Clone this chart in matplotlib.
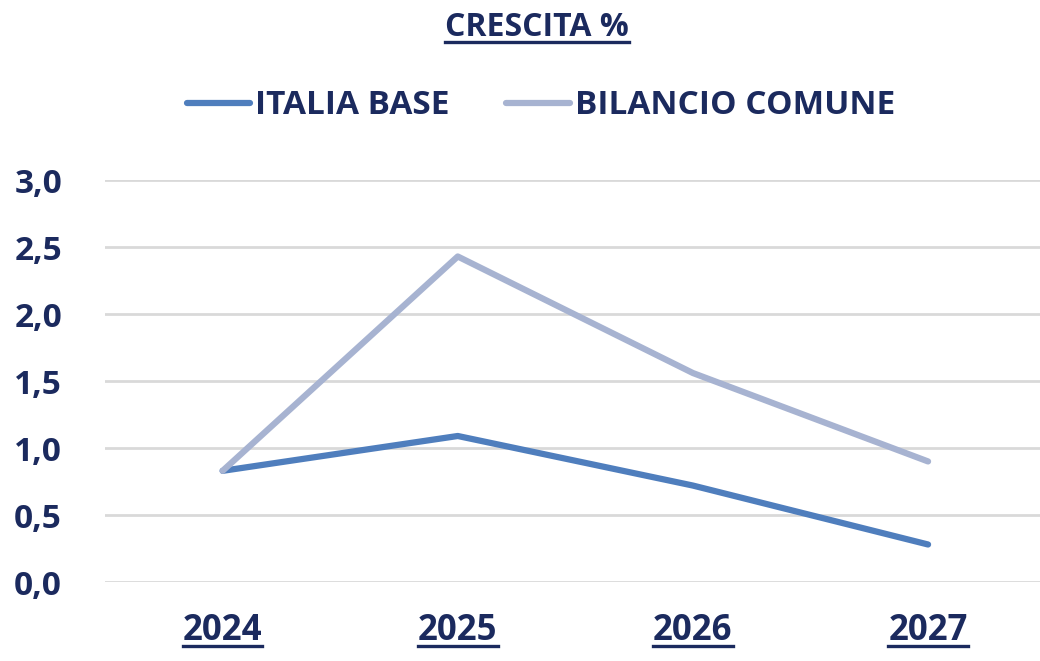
import matplotlib
matplotlib.use("Agg")
import matplotlib.pyplot as plt
from matplotlib.lines import Line2D

plt.rcParams["font.family"] = ["Open Sans", "DejaVu Sans"]
plt.rcParams["font.weight"] = "bold"

years = ["2024", "2025", "2026", "2027"]
italia_base = [0.83, 1.09, 0.72, 0.28]
bilancio_comune = [0.83, 2.43, 1.56, 0.90]
y_ticks = [0.0, 0.5, 1.0, 1.5, 2.0, 2.5, 3.0]

NAVY = "#1B2A5E"
BLUE = "#4F7EBD"
LIGHT = "#A7B3D1"
GRID = "#D9D9D9"

fig = plt.figure(figsize=(10.4, 6.61), dpi=100)
ax = fig.add_axes([0.101, 0.1195, 0.899, 0.608])

x = range(len(years))
ax.plot(x, italia_base, color=BLUE, linewidth=4.5, solid_capstyle="round",
        label="ITALIA BASE")
ax.plot(x, bilancio_comune, color=LIGHT, linewidth=4.5, solid_capstyle="round",
        label="BILANCIO COMUNE")

ax.set_xlim(-0.5, 3.476)
ax.set_ylim(0, 3.0)
ax.set_yticks(y_ticks)
ax.set_yticklabels([f"{v:.1f}".replace(".", ",") for v in y_ticks])
ax.set_xticks(list(x))
ax.set_xticklabels(years)
ax.tick_params(length=0, labelcolor=NAVY)
ax.tick_params(axis="y", pad=31, labelsize=24)
ax.tick_params(axis="x", pad=22, labelsize=25)
ax.grid(axis="y", color=GRID, linewidth=2)
ax.set_axisbelow(True)
for side in ax.spines.values():
    side.set_visible(False)

title = fig.text(0.516, 0.958, "CRESCITA %", ha="center", va="center",
                 fontsize=23, color=NAVY, fontweight="bold")

fig.legend(loc="center", bbox_to_anchor=(0.52, 0.84), ncol=2, frameon=False,
           fontsize=24, labelcolor=NAVY, handlelength=1.9, handletextpad=0.15,
           columnspacing=1.7)

# underline the title and the year labels
fig.canvas.draw()
renderer = fig.canvas.get_renderer()
inv = fig.transFigure.inverted()
for t in [title] + list(ax.get_xticklabels()):
    bb = t.get_window_extent(renderer)
    (x0, y0), (x1, _) = inv.transform([(bb.x0, bb.y0), (bb.x1, bb.y1)])
    y_line = y0 + 2.5 / 661
    fig.add_artist(Line2D([x0, x1], [y_line, y_line], color=NAVY, linewidth=2.4,
                          transform=fig.transFigure))

fig.savefig("out.png", dpi=100, facecolor="white")
